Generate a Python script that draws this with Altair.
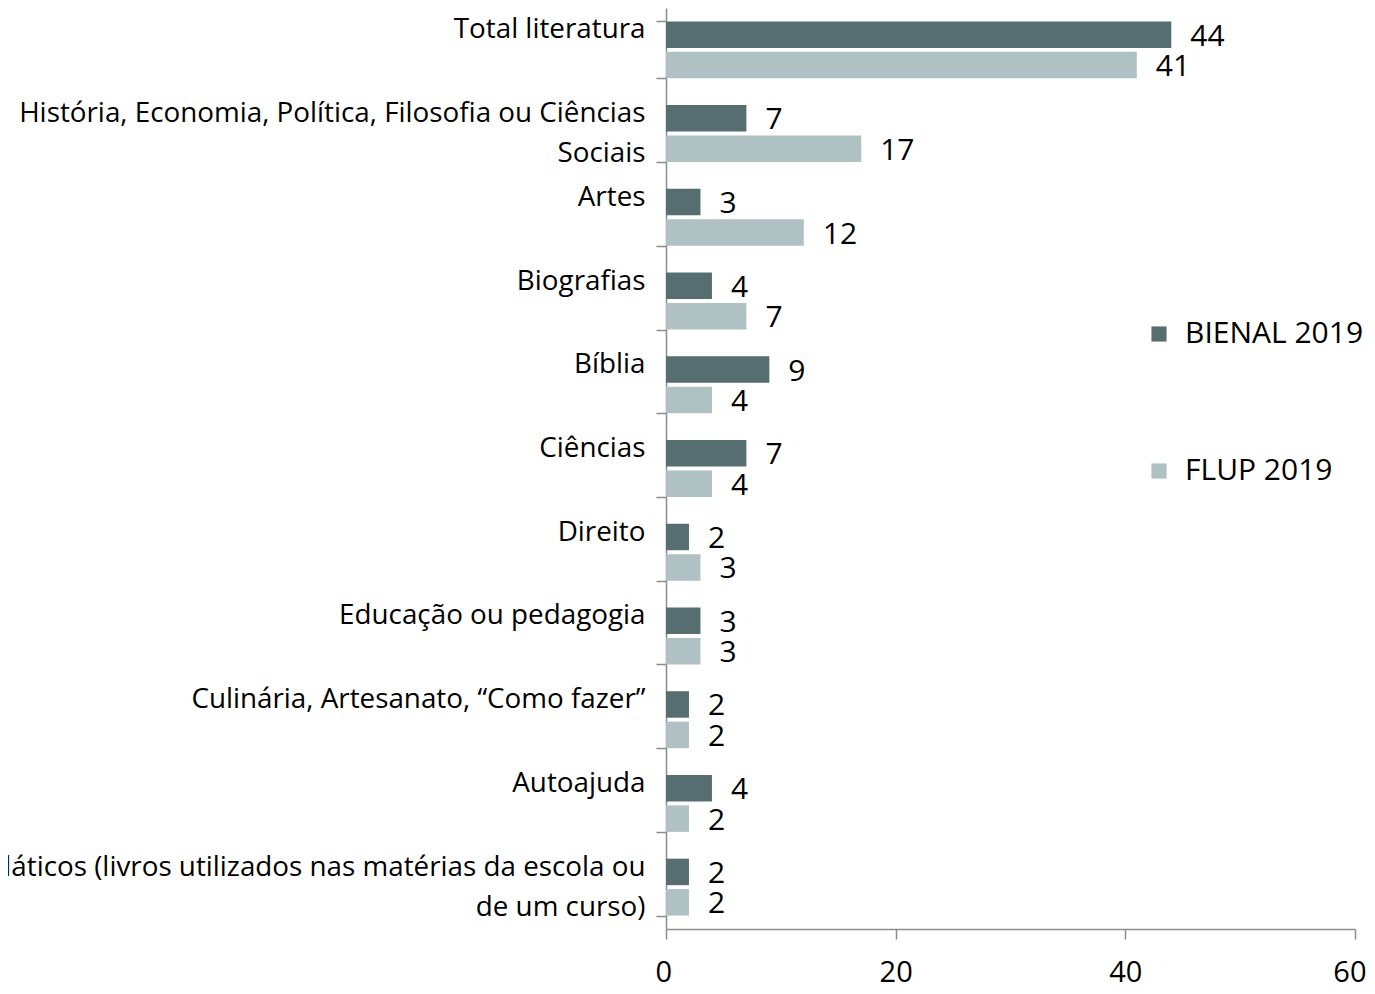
import altair as alt
import pandas as pd

categories = [
    "Total literatura",
    "História, Economia, Política, Filosofia ou Ciências|Sociais",
    "Artes",
    "Biografias",
    "Bíblia",
    "Ciências",
    "Direito",
    "Educação ou pedagogia",
    "Culinária, Artesanato, “Como fazer”",
    "Autoajuda",
    "Didáticos (livros utilizados nas matérias da escola ou|de um curso)",
]
bienal_2019 = [44, 7, 3, 4, 9, 7, 2, 3, 2, 4, 2]
flup_2019 = [41, 17, 12, 7, 4, 4, 3, 3, 2, 2, 2]
series = ["BIENAL 2019", "FLUP 2019"]
colors = ["#566E70", "#AFC1C2"]
x_ticks = [0, 20, 40, 60]

rows = []
for c, b, f in zip(categories, bienal_2019, flup_2019):
    rows.append({"categoria": c, "serie": series[0], "valor": b})
    rows.append({"categoria": c, "serie": series[1], "valor": f})
df = pd.DataFrame(rows)

FONT = "Open Sans"
AXIS_GRAY = "#8C8C8C"

y_enc = alt.Y(
    "categoria:N",
    sort=categories,
    title=None,
    scale=alt.Scale(paddingInner=0.32, paddingOuter=0.16),
    axis=alt.Axis(
        labelExpr="split(datum.label, '|')",
        labelBaseline="alphabetic",
        labelOffset=-12,
        labelLineHeight=40,
        labelAlign="right",
        labelLimit=2000,
        labelFont=FONT,
        labelFontSize=27.8,
        labelColor="#000000",
        labelPadding=11,
        tickBand="extent",
        tickSize=10,
        tickColor=AXIS_GRAY,
        domainColor=AXIS_GRAY,
        domainWidth=1.5,
        tickWidth=1.5,
        grid=False,
    ),
)
yoff_enc = alt.YOffset("serie:N", sort=series, scale=alt.Scale(paddingInner=0.13))
x_enc = alt.X(
    "valor:Q",
    title=None,
    scale=alt.Scale(domain=[0, 60], nice=False),
    axis=alt.Axis(
        values=x_ticks,
        labelFont=FONT,
        labelFontSize=29,
        labelColor="#000000",
        labelPadding=19,
        labelFlush=True,
        labelFlushOffset=11,
        tickSize=10,
        tickColor=AXIS_GRAY,
        domainColor=AXIS_GRAY,
        domainWidth=1.5,
        tickWidth=1.5,
        grid=False,
    ),
)
color_enc = alt.Color(
    "serie:N",
    sort=series,
    scale=alt.Scale(domain=series, range=colors),
    legend=alt.Legend(
        title=None,
        orient="none",
        legendX=478,
        legendY=311,
        symbolType="square",
        symbolSize=230,
        symbolStrokeWidth=0,
        labelFont=FONT,
        labelFontSize=30,
        labelColor="#000000",
        labelOffset=11,
        labelLimit=1000,
        rowPadding=107,
        padding=0,
    ),
)

bars = alt.Chart(df).mark_bar().encode(
    y=y_enc, yOffset=yoff_enc, x=x_enc, color=color_enc
)
labels = alt.Chart(df).mark_text(
    align="left", baseline="middle", dx=19, dy=2, font=FONT, fontSize=30, color="#000000"
).encode(
    y=alt.Y("categoria:N", sort=categories),
    yOffset=alt.YOffset("serie:N", sort=series),
    x=alt.X("valor:Q"),
    text=alt.Text("valor:Q"),
)

chart = (
    alt.layer(bars, labels)
    .properties(
        width=689,
        height=921,
        background="#ffffff",
        autosize=alt.AutoSizeParams(type="none"),
        padding={"left": 658, "top": 0, "right": 12, "bottom": 53},
    )
    .configure_view(stroke=None)
)

chart.save("out.html", embed_options={"renderer": "svg", "actions": False})
